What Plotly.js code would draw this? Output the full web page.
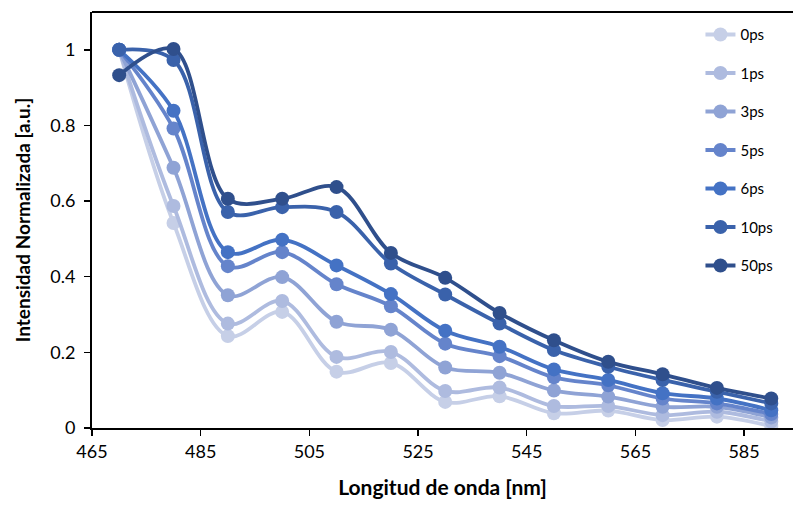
<!DOCTYPE html>
<html>
<head>
<meta charset="utf-8">
<script src="https://cdn.plot.ly/plotly-3.0.1.min.js"></script>
<style>html,body{margin:0;padding:0;background:#fff;overflow:hidden}#chart{width:793px;height:506px}</style>
</head>
<body>
<div id="chart"></div>
<script>
const wavelengths = [470, 480, 490, 500, 510, 520, 530, 540, 550, 560, 570, 580, 590];
const seriesNames = ["0ps", "1ps", "3ps", "5ps", "6ps", "10ps", "50ps"];
const s0ps  = [1.0, 0.542, 0.243, 0.307, 0.149, 0.172, 0.069, 0.084, 0.039, 0.046, 0.021, 0.030, 0.005];
const s1ps  = [1.0, 0.587, 0.276, 0.336, 0.188, 0.201, 0.098, 0.107, 0.058, 0.058, 0.034, 0.043, 0.017];
const s3ps  = [1.0, 0.688, 0.351, 0.399, 0.281, 0.260, 0.160, 0.146, 0.099, 0.083, 0.056, 0.056, 0.028];
const s5ps  = [1.0, 0.792, 0.428, 0.465, 0.380, 0.322, 0.223, 0.190, 0.134, 0.113, 0.078, 0.065, 0.037];
const s6ps  = [1.0, 0.839, 0.465, 0.498, 0.430, 0.354, 0.257, 0.215, 0.155, 0.127, 0.092, 0.078, 0.047];
const s10ps = [1.0, 0.973, 0.571, 0.584, 0.571, 0.435, 0.353, 0.276, 0.206, 0.162, 0.127, 0.096, 0.065];
const s50ps = [0.933, 1.002, 0.606, 0.606, 0.637, 0.463, 0.397, 0.304, 0.232, 0.175, 0.142, 0.106, 0.078];
const seriesValues = [s0ps, s1ps, s3ps, s5ps, s6ps, s10ps, s50ps];
const colors = ["#c6cfe7", "#aebbdf", "#8fa3d5", "#6584cb", "#4472c4", "#3a62ab", "#2f4f8c"];
const xTicks = [465, 485, 505, 525, 545, 565, 585];
const yTicks = [0, 0.2, 0.4, 0.6, 0.8, 1];
const yTickText = ["0", "0.2", "0.4", "0.6", "0.8", "1"];

const font = "Lato, 'Open Sans', sans-serif";
const traces = seriesNames.map((name, i) => ({
  x: wavelengths,
  y: seriesValues[i],
  name: name,
  legendgroup: name,
  type: "scatter",
  mode: "lines+markers",
  line: {color: colors[i], width: 3.8, shape: "spline", smoothing: 1},
  marker: {color: colors[i], size: 14}
}));

const layout = {
  width: 793, height: 506,
  margin: {l: 92, r: 0, t: 12, b: 78},
  paper_bgcolor: "#fff", plot_bgcolor: "#fff",
  font: {family: font, color: "#000"},
  showlegend: true,
  legend: {x: 0.868, y: 0.985, xanchor: "left", yanchor: "top", traceorder: "grouped",
           tracegroupgap: 16, font: {size: 15, family: font, color: "#000"}, bgcolor: "rgba(0,0,0,0)"},
  xaxis: {
    range: [465, 594], tickvals: xTicks, ticktext: xTicks.map(String),
    ticks: "outside", ticklen: 6, tickwidth: 1.5, tickcolor: "#000",
    showline: true, linecolor: "#000", linewidth: 2, showgrid: false, zeroline: false,
    tickfont: {size: 18, family: font, color: "#000"},
    title: {text: "Longitud de onda [nm]", font: {size: 21, family: font, color: "#000", weight: "bold"}, standoff: 20}
  },
  yaxis: {
    range: [0, 1.1], tickvals: yTicks, ticktext: yTickText,
    ticks: "outside", ticklen: 6, tickwidth: 1.5, tickcolor: "#000", ticklabelstandoff: 5,
    showline: true, linecolor: "#000", linewidth: 2, showgrid: false, zeroline: false,
    tickfont: {size: 18, family: font, color: "#000"},
    title: {text: "Intensidad Normalizada [a.u.]", font: {size: 19, family: font, color: "#000", weight: "bold"}, standoff: 15}
  },
  shapes: [{type: "line", xref: "paper", yref: "paper", x0: 0, x1: 1, y0: 1, y1: 1, line: {color: "#000", width: 2}}]
};
Plotly.newPlot("chart", traces, layout, {displayModeBar: false, staticPlot: true});
</script>
</body>
</html>
